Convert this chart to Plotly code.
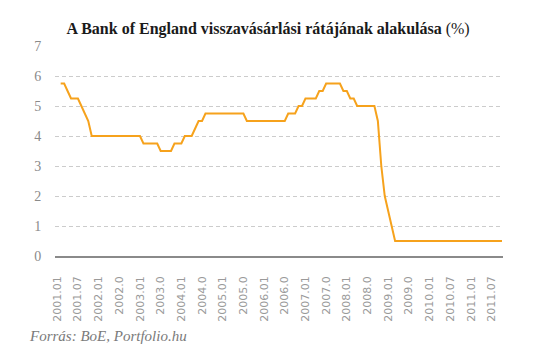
import plotly.graph_objects as go
import pandas as pd

# Monthly Bank of England repo rate, Feb 2001 - Oct 2011
start_month = "2001-02"
rates = [
    5.75, 5.75, 5.5, 5.25, 5.25, 5.25, 5.0, 4.75, 4.5, 4.0, 4.0,          # 2001 Feb-Dec
    4.0, 4.0, 4.0, 4.0, 4.0, 4.0, 4.0, 4.0, 4.0, 4.0, 4.0, 4.0,            # 2002
    4.0, 3.75, 3.75, 3.75, 3.75, 3.75, 3.5, 3.5, 3.5, 3.5, 3.75, 3.75,     # 2003
    3.75, 4.0, 4.0, 4.0, 4.25, 4.5, 4.5, 4.75, 4.75, 4.75, 4.75, 4.75,     # 2004
    4.75, 4.75, 4.75, 4.75, 4.75, 4.75, 4.75, 4.5, 4.5, 4.5, 4.5, 4.5,     # 2005
    4.5, 4.5, 4.5, 4.5, 4.5, 4.5, 4.5, 4.75, 4.75, 4.75, 5.0, 5.0,         # 2006
    5.25, 5.25, 5.25, 5.25, 5.5, 5.5, 5.75, 5.75, 5.75, 5.75, 5.75, 5.5,   # 2007
    5.5, 5.25, 5.25, 5.0, 5.0, 5.0, 5.0, 5.0, 5.0, 4.5, 3.0, 2.0,          # 2008
    1.5, 1.0, 0.5, 0.5, 0.5, 0.5, 0.5, 0.5, 0.5, 0.5, 0.5, 0.5,            # 2009
    0.5, 0.5, 0.5, 0.5, 0.5, 0.5, 0.5, 0.5, 0.5, 0.5, 0.5, 0.5,            # 2010
    0.5, 0.5, 0.5, 0.5, 0.5, 0.5, 0.5, 0.5, 0.5, 0.5,                      # 2011 Jan-Oct
]
tick_labels = [
    "2001.01", "2001.07", "2002.01", "2002.0", "2003.01", "2003.0",
    "2004.01", "2004.0", "2005.01", "2005.0", "2006.01", "2006.0",
    "2007.01", "2007.0", "2008.01", "2008.0", "2009.01", "2009.0",
    "2010.01", "2010.07", "2011.01", "2011.07",
]
y_ticks = [0, 1, 2, 3, 4, 5, 6, 7]
title_text = "<b>A Bank of England visszavásárlási rátájának alakulása</b> (%)"
source_text = "<i>Forrás: BoE, Portfolio.hu</i>"

months = pd.period_range(start_month, periods=len(rates), freq="M")
base = pd.Period("2001-01", freq="M")
x_idx = [(m - base).n for m in months]
tick_pos = [i * 6 for i in range(len(tick_labels))]

fig = go.Figure()
fig.add_trace(go.Scatter(
    x=x_idx, y=rates, mode="lines",
    line=dict(color="#F6A21C", width=2),
    hoverinfo="skip", showlegend=False,
))

fig.update_layout(
    width=533, height=354,
    margin=dict(l=55, r=30, t=46, b=98),
    paper_bgcolor="white", plot_bgcolor="white",
    title=dict(
        text=title_text, x=0.503, xref="container", xanchor="center",
        y=1 - 28 / 354, yref="container", yanchor="middle",
        font=dict(family="Liberation Serif", size=16, color="#1a1a1a"),
    ),
    xaxis=dict(
        range=[-0.65, 129.3], tickvals=tick_pos, ticktext=tick_labels,
        tickangle=-90, showgrid=False, zeroline=False,
        showline=True, linecolor="#8a8a8a", linewidth=1.5,
        ticks="outside", ticklen=14, tickcolor="rgba(0,0,0,0)",
        tickfont=dict(family="DejaVu Sans", size=11, color="#9a9a9a"),
    ),
    yaxis=dict(
        range=[0, 7], tickvals=y_ticks,
        showgrid=True, gridcolor="#cccccc", gridwidth=1, griddash="4px,3px",
        zeroline=False, showline=False,
        ticks="outside", ticklen=10, tickcolor="rgba(0,0,0,0)",
        tickfont=dict(family="Liberation Serif", size=14, color="#8a8a8a"),
    ),
    annotations=[dict(
        text=source_text, xref="paper", yref="paper", x=-28 / 448, y=-80 / 210,
        xanchor="left", yanchor="middle", showarrow=False,
        font=dict(family="Liberation Serif", size=15, color="#7a7a7a"),
    )],
)

fig.write_html("out.html")
